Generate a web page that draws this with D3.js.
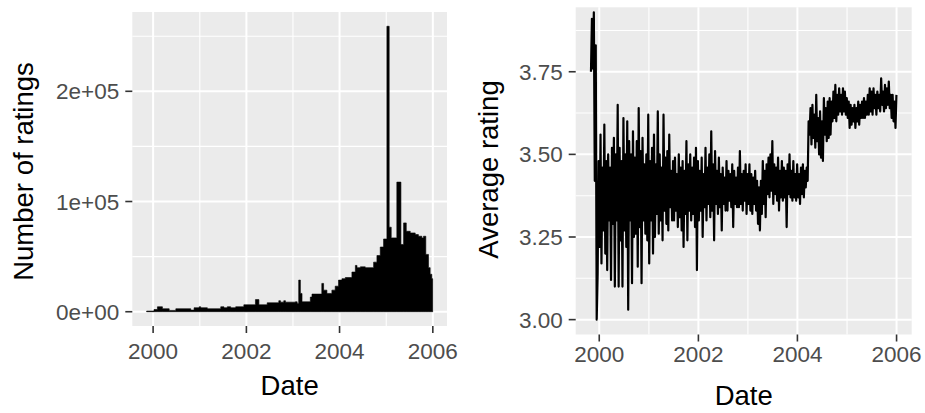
<!DOCTYPE html>
<html>
<head>
<meta charset="utf-8">
<script src="https://cdn.jsdelivr.net/npm/d3@7"></script>
<style>
  body { margin: 0; background: #ffffff; }
  svg { display: block; }
  text { font-family: "Liberation Sans", Arial, sans-serif; }
</style>
</head>
<body>
<svg id="chart" width="925" height="413"></svg>
<script>
// ---- Number of ratings: level starting on each date (step series) ----
const countDates = [
  "1999-11-11","2000-01-08","2000-02-04","2000-03-14","2000-05-06","2000-06-27",
  "2000-10-22","2000-11-17","2000-12-27","2001-01-08","2001-03-01","2001-06-14",
  "2001-07-09","2001-08-04","2001-08-31","2001-10-09","2001-12-12","2002-03-13",
  "2002-04-09","2002-06-13","2002-09-12","2002-09-25","2002-10-21","2002-11-03",
  "2003-01-20","2003-02-03","2003-02-15","2003-02-28","2003-03-13","2003-05-17",
  "2003-05-30","2003-08-15","2003-08-29","2003-09-24","2003-11-02","2003-11-28",
  "2003-12-24","2004-01-20","2004-02-15","2004-04-07","2004-05-04","2004-05-17",
  "2004-06-12","2004-07-21","2004-09-24","2004-10-20","2004-11-15","2004-12-11",
  "2005-01-06","2005-01-24","2005-02-09","2005-03-25","2005-04-26","2005-05-17",
  "2005-06-07","2005-07-08","2005-08-16","2005-09-10","2005-10-07","2005-10-20",
  "2005-11-07","2005-11-28","2005-12-11","2005-12-24"
];
const countValues = [
  600, 2000, 4500, 2700, 1200, 2700,
  1500, 3600, 4500, 3600, 2700, 4500,
  3600, 4500, 3600, 4500, 6300, 11000,
  6300, 8100, 10000, 8700, 10000, 8700,
  9000, 7500, 28700, 16600, 9000, 13300,
  16000, 25700, 19600, 16600, 19600, 23200,
  28700, 30000, 31000, 36000, 42000, 40000,
  40700, 40000, 45000, 51000, 58700, 66000,
  259000, 76700, 67000, 117600, 61000, 80600,
  73000, 71500, 70000, 68500, 67000, 68500,
  52000, 40000, 34000, 30000
];
const countEnd = "2005-12-31";

// ---- Average rating, sampled on an even grid from first to last day ----
const ratingStart = "1999-11-01";
const ratingEnd = "2005-12-31";
const rating1999 = [3.75, 3.91, 3.76, 3.93, 3.42, 3.83, 3.00, 3.14];
const rating2000 = [
  3.48, 3.22, 3.56, 3.17, 3.46, 3.27, 3.59, 3.20, 3.48, 3.15, 3.50, 3.30, 3.46,
  3.12, 3.52, 3.29, 3.55, 3.10, 3.50, 3.30, 3.65, 3.10, 3.52, 3.24, 3.48, 3.10,
  3.61, 3.27, 3.50, 3.22, 3.60, 3.03, 3.54, 3.30, 3.50, 3.11, 3.57, 3.25, 3.49,
  3.26, 3.54, 3.16, 3.64, 3.28, 3.51, 3.11, 3.55, 3.30, 3.47, 3.26, 3.50, 3.24
];
const rating2001 = [
  3.62, 3.17, 3.48, 3.30, 3.52, 3.20, 3.56, 3.25, 3.47, 3.32, 3.63, 3.26, 3.50,
  3.30, 3.46, 3.24, 3.62, 3.33, 3.49, 3.29, 3.51, 3.27, 3.56, 3.34, 3.45, 3.30,
  3.48, 3.30, 3.49, 3.33, 3.44, 3.28, 3.50, 3.31, 3.46, 3.27, 3.48, 3.22, 3.45,
  3.32, 3.54, 3.24, 3.47, 3.33, 3.50, 3.30, 3.46, 3.32, 3.49, 3.28, 3.52, 3.15
];
const rating2002 = [
  3.48, 3.30, 3.45, 3.33, 3.49, 3.25, 3.44, 3.34, 3.52, 3.30, 3.46, 3.35, 3.50,
  3.31, 3.57, 3.33, 3.47, 3.24, 3.51, 3.35, 3.45, 3.32, 3.49, 3.34, 3.44, 3.27,
  3.46, 3.35, 3.43, 3.33, 3.48, 3.33, 3.45, 3.36, 3.44, 3.34, 3.47, 3.28, 3.45,
  3.35, 3.43, 3.34, 3.46, 3.34, 3.51, 3.35, 3.44, 3.33, 3.45, 3.36, 3.47, 3.32
];
const rating2003 = [
  3.44, 3.35, 3.47, 3.33, 3.44, 3.32, 3.43, 3.35, 3.45, 3.33, 3.42, 3.29, 3.40,
  3.27, 3.42, 3.32, 3.48, 3.35, 3.45, 3.31, 3.47, 3.38, 3.49, 3.37, 3.50, 3.39,
  3.54, 3.35, 3.47, 3.38, 3.46, 3.36, 3.49, 3.33, 3.45, 3.37, 3.48, 3.36, 3.46,
  3.37, 3.45, 3.28, 3.47, 3.38, 3.50, 3.37, 3.45, 3.36, 3.48, 3.37, 3.44, 3.36
];
const rating2004 = [
  3.47, 3.37, 3.44, 3.35, 3.46, 3.38, 3.47, 3.37, 3.45, 3.40, 3.46, 3.42, 3.60,
  3.56, 3.64, 3.53, 3.65, 3.55, 3.62, 3.52, 3.68, 3.54, 3.61, 3.50, 3.63, 3.49,
  3.60, 3.48, 3.67, 3.56, 3.64, 3.54, 3.66, 3.55, 3.67, 3.56, 3.66, 3.60, 3.69,
  3.61, 3.71, 3.60, 3.68, 3.62, 3.70, 3.63, 3.68, 3.62, 3.70, 3.63, 3.69, 3.62,
  3.67
];
const rating2005 = [
  3.61, 3.66, 3.58, 3.65, 3.59, 3.64, 3.60, 3.65, 3.58, 3.64, 3.60, 3.66, 3.59,
  3.65, 3.61, 3.66, 3.61, 3.67, 3.61, 3.66, 3.62, 3.68, 3.62, 3.70, 3.63, 3.69,
  3.62, 3.70, 3.64, 3.68, 3.62, 3.69, 3.64, 3.68, 3.63, 3.73, 3.65, 3.69, 3.63,
  3.71, 3.64, 3.70, 3.65, 3.72, 3.64, 3.68, 3.61, 3.68, 3.60, 3.66, 3.58, 3.68
];
const ratingLimits = [3.0, 3.9];

// ---- Axis ticks ----
const yearMajor = [2000, 2002, 2004, 2006];
const yearMinor = [2001, 2003, 2005];
const countMajor = [0, 100000, 200000];
const countMajorLabels = ["0e+00", "1e+05", "2e+05"];
const countMinor = [50000, 150000, 250000];
const ratingMajor = [3.00, 3.25, 3.50, 3.75];
const ratingMajorLabels = ["3.00", "3.25", "3.50", "3.75"];
const ratingMinor = [3.125, 3.375, 3.625, 3.875];

// ------------------------------------------------------------------
const svg = d3.select("#chart");
const parse = d3.utcParse("%Y-%m-%d");
const yearDate = y => new Date(Date.UTC(y, 0, 1));
function expand(lo, hi, f = 0.05) {
  const a = +lo, b = +hi, pad = (b - a) * f;
  return [a - pad, b + pad];
}
const expandTime = (lo, hi) => expand(lo, hi).map(t => new Date(t));

const TICK_FONT = 22.5, TITLE_FONT = 27.5;

function drawPanel(cfg) {
  const { left, right, top, bottom } = cfg.box;
  const x = d3.scaleUtc().domain(cfg.xDomain).range([left, right]);
  const y = d3.scaleLinear().domain(cfg.yDomain).range([bottom, top]);
  const g = svg.append("g");

  g.append("rect")
    .attr("x", left).attr("y", top)
    .attr("width", right - left).attr("height", bottom - top)
    .attr("fill", "#EBEBEB");

  // grid: minor first, then major
  g.selectAll(null).data(cfg.yMinor).join("line")
    .attr("x1", left).attr("x2", right)
    .attr("y1", d => y(d)).attr("y2", d => y(d))
    .attr("stroke", "#fff").attr("stroke-width", 1.1);
  g.selectAll(null).data(yearMinor).join("line")
    .attr("y1", top).attr("y2", bottom)
    .attr("x1", d => x(yearDate(d))).attr("x2", d => x(yearDate(d)))
    .attr("stroke", "#fff").attr("stroke-width", 1.1);
  g.selectAll(null).data(cfg.yMajor).join("line")
    .attr("x1", left).attr("x2", right)
    .attr("y1", d => y(d)).attr("y2", d => y(d))
    .attr("stroke", "#fff").attr("stroke-width", 2);
  g.selectAll(null).data(yearMajor).join("line")
    .attr("y1", top).attr("y2", bottom)
    .attr("x1", d => x(yearDate(d))).attr("x2", d => x(yearDate(d)))
    .attr("stroke", "#fff").attr("stroke-width", 2);

  const clipId = cfg.id + "-clip";
  g.append("clipPath").attr("id", clipId).append("rect")
    .attr("x", left).attr("y", top)
    .attr("width", right - left).attr("height", bottom - top);
  const marks = g.append("g").attr("clip-path", `url(#${clipId})`);
  cfg.drawMarks(marks, x, y);

  // axis ticks
  const TL = 7;
  g.selectAll(null).data(yearMajor).join("line")
    .attr("x1", d => x(yearDate(d))).attr("x2", d => x(yearDate(d)))
    .attr("y1", bottom).attr("y2", bottom + TL)
    .attr("stroke", "#333").attr("stroke-width", 1.6);
  g.selectAll(null).data(cfg.yMajor).join("line")
    .attr("y1", d => y(d)).attr("y2", d => y(d))
    .attr("x1", left - TL).attr("x2", left)
    .attr("stroke", "#333").attr("stroke-width", 1.6);

  g.selectAll(null).data(yearMajor).join("text")
    .attr("x", d => x(yearDate(d)))
    .attr("y", bottom + cfg.xLabelOffset)
    .attr("text-anchor", "middle")
    .attr("font-size", TICK_FONT).attr("fill", "#4D4D4D")
    .text(d => String(d));
  g.selectAll(null).data(cfg.yMajor).join("text")
    .attr("x", left - TL - 6)
    .attr("y", d => y(d))
    .attr("dy", "0.36em")
    .attr("text-anchor", "end")
    .attr("font-size", TICK_FONT).attr("fill", "#4D4D4D")
    .text((d, i) => cfg.yLabels[i]);

  // titles
  g.append("text")
    .attr("x", (left + right) / 2).attr("y", cfg.xTitleY)
    .attr("text-anchor", "middle")
    .attr("font-size", TITLE_FONT).attr("fill", "#000")
    .text("Date");
  g.append("text")
    .attr("transform", `translate(${cfg.yTitleX},${cfg.yTitleCY}) rotate(-90)`)
    .attr("text-anchor", "middle")
    .attr("font-size", TITLE_FONT).attr("fill", "#000")
    .text(cfg.yTitle);
}

// ---- left: number of ratings ----
const countSeries = countDates.map((d, i) => ({ date: parse(d), v: countValues[i] }));
countSeries.push({ date: parse(countEnd), v: countValues[countValues.length - 1] });
const countMax = d3.max(countValues);

drawPanel({
  id: "count",
  box: { left: 132.3, right: 447, top: 12, bottom: 326 },
  xDomain: expandTime(countSeries[0].date, countSeries[countSeries.length - 1].date),
  yDomain: expand(0, countMax),
  yMajor: countMajor, yMinor: countMinor, yLabels: countMajorLabels,
  xLabelOffset: 33, xTitleY: 395,
  yTitle: "Number of ratings", yTitleX: 33, yTitleCY: 171.5,
  drawMarks(g, x, y) {
    const area = d3.area()
      .curve(d3.curveStepAfter)
      .x(d => x(d.date)).y0(y(0)).y1(d => y(d.v));
    g.append("path").datum(countSeries)
      .attr("d", area).attr("fill", "#000")
      .attr("stroke", "#000").attr("stroke-width", 0.6);
  }
});

// ---- right: average rating ----
const ratingValues = [].concat(rating1999, rating2000, rating2001, rating2002,
                               rating2003, rating2004, rating2005);
const rStart = parse(ratingStart), rEnd = parse(ratingEnd);
const ratingTime = d3.scaleLinear().domain([0, ratingValues.length - 1])
  .range([rStart.getTime(), rEnd.getTime()]);
const ratingSeries = ratingValues.map((v, i) => ({ date: new Date(ratingTime(i)), v }));

drawPanel({
  id: "rating",
  box: { left: 575.7, right: 911.7, top: 7.3, bottom: 334.5 },
  xDomain: expandTime(rStart, rEnd),
  yDomain: expand(ratingLimits[0], ratingLimits[1]),
  yMajor: ratingMajor, yMinor: ratingMinor, yLabels: ratingMajorLabels,
  xLabelOffset: 27.5, xTitleY: 405,
  yTitle: "Average rating", yTitleX: 497.5, yTitleCY: 169.5,
  drawMarks(g, x, y) {
    const line = d3.line().x(d => x(d.date)).y(d => y(d.v));
    g.append("path").datum(ratingSeries)
      .attr("d", line).attr("fill", "none")
      .attr("stroke", "#000").attr("stroke-width", 2.2)
      .attr("stroke-linejoin", "round");
  }
});
</script>
</body>
</html>
